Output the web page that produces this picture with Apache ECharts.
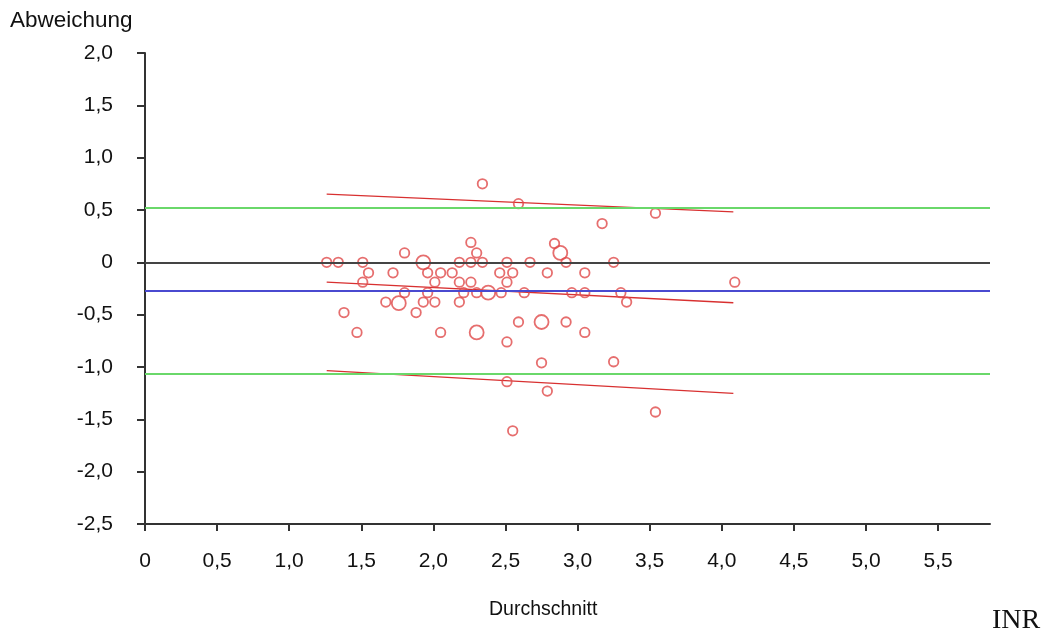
<!DOCTYPE html>
<html>
<head>
<meta charset="utf-8">
<script src="https://cdn.jsdelivr.net/npm/echarts@6/dist/echarts.min.js"></script>
<style>html,body{margin:0;padding:0;background:#fff;}#c{width:1046px;height:637px;}</style>
</head>
<body>
<div id="c"></div>
<script>
// ---- data ----
const xTicks = [0, 0.5, 1.0, 1.5, 2.0, 2.5, 3.0, 3.5, 4.0, 4.5, 5.0, 5.5];
const yTicks = [-2.5, -2.0, -1.5, -1.0, -0.5, 0, 0.5, 1.0, 1.5, 2.0];
const pointX = [1.26,1.34,1.51,1.55,1.51,1.38,1.47,1.72,1.80,1.80,1.67,1.76,1.88,1.93,1.96,2.01,1.96,1.93,2.01,2.05,2.05,2.13,2.18,2.18,2.18,2.26,2.30,2.26,2.34,2.26,2.21,2.30,2.38,2.30,2.46,2.51,3.17,2.84,2.88,2.51,2.67,2.92,3.25,2.55,2.79,3.05,2.51,4.09,2.47,2.63,2.96,3.05,3.30,3.34,2.59,2.75,2.92,3.05,2.75,3.25,2.51,2.79,3.54,2.55,2.34,2.59,3.54];
const pointY = [0,0,0,-0.10,-0.19,-0.48,-0.67,-0.10,0.09,-0.29,-0.38,-0.39,-0.48,0,-0.10,-0.19,-0.29,-0.38,-0.38,-0.10,-0.67,-0.10,0,-0.19,-0.38,0.19,0.09,0,0,-0.19,-0.29,-0.29,-0.29,-0.67,-0.10,-0.76,0.37,0.18,0.09,0,0,0,0,-0.10,-0.10,-0.10,-0.19,-0.19,-0.29,-0.29,-0.29,-0.29,-0.29,-0.38,-0.57,-0.57,-0.57,-0.67,-0.96,-0.95,-1.14,-1.23,-1.43,-1.61,0.75,0.56,0.47];
const pointCount = [1,1,1,1,1,1,1,1,1,1,1,2,1,2,1,1,1,1,1,1,1,1,1,1,1,1,1,1,1,1,1,1,2,2,1,1,1,1,2,1,1,1,1,1,1,1,1,1,1,1,1,1,1,1,1,2,1,1,1,1,1,1,1,1,1,1,1];
const meanDiff = -0.265;
const upperLoA = 0.52;
const lowerLoA = -1.064;
const zeroLine = 0;
const regX = [1.26, 4.08];
const regMid = [-0.19, -0.386];
const regUpper = [0.652, 0.482];
const regLower = [-1.035, -1.252];

const fmt = v => (Math.abs(v) < 1e-9 ? '0' : v.toFixed(1).replace('.', ','));
const pts = pointX.map((x, i) => [x, pointY[i], pointCount[i]]);
const regLine = ys => regX.map((x, i) => [x, ys[i]]);

const chart = echarts.init(document.getElementById('c'), null, {renderer: 'canvas'});
const axisCol = '#333';
const sans = 'Liberation Sans, Arial, sans-serif';
chart.setOption({
  animation: false,
  backgroundColor: '#fff',
  grid: {left: 145, right: 56, top: 53, bottom: 113, containLabel: false},
  xAxis: {
    type: 'value', min: 0, max: 5.86, interval: 0.5,
    axisLine: {show: true, onZero: false, lineStyle: {color: axisCol, width: 2}},
    axisTick: {show: true, length: 7, customValues: xTicks, lineStyle: {color: axisCol, width: 2}},
    axisLabel: {customValues: xTicks, formatter: fmt, margin: 27, fontSize: 21, color: '#111', fontFamily: sans},
    splitLine: {show: false}
  },
  yAxis: {
    type: 'value', min: -2.5, max: 2.0, interval: 0.5,
    axisLine: {show: true, onZero: false, lineStyle: {color: axisCol, width: 2}},
    axisTick: {show: true, length: 8, customValues: yTicks, lineStyle: {color: axisCol, width: 2}},
    axisLabel: {customValues: yTicks, formatter: fmt, margin: 32, fontSize: 21, color: '#111', fontFamily: sans},
    splitLine: {show: false}
  },
  graphic: [
    {type: 'text', left: 10, top: 9, style: {text: 'Abweichung', fontSize: 22.5, fill: '#111', fontFamily: sans}},
    {type: 'text', left: 489, top: 600, style: {text: 'Durchschnitt', fontSize: 19.5, fill: '#111', fontFamily: sans}},
    {type: 'text', left: 992, top: 607, style: {text: 'INR', fontSize: 28, fill: '#111', fontFamily: 'Liberation Serif, Times New Roman, serif'}}
  ],
  series: [
    {
      type: 'line', data: [], silent: true,
      markLine: {
        silent: true, symbol: 'none', label: {show: false},
        data: [
          {yAxis: zeroLine, lineStyle: {color: '#444', width: 2, type: 'solid'}},
          {yAxis: upperLoA, lineStyle: {color: '#6ad86a', width: 2, type: 'solid'}},
          {yAxis: lowerLoA, lineStyle: {color: '#6ad86a', width: 2, type: 'solid'}},
          {yAxis: meanDiff, lineStyle: {color: '#4a4ad0', width: 2, type: 'solid'}}
        ]
      }
    },
    {type: 'line', data: regLine(regUpper), symbol: 'none', lineStyle: {color: '#d83030', width: 1.3}, z: 3},
    {type: 'line', data: regLine(regMid), symbol: 'none', lineStyle: {color: '#d83030', width: 1.3}, z: 3},
    {type: 'line', data: regLine(regLower), symbol: 'none', lineStyle: {color: '#d83030', width: 1.3}, z: 3},
    {
      type: 'scatter', data: pts, z: 4,
      symbol: 'circle',
      symbolSize: d => (d[2] > 1 ? 14 : 9.5),
      itemStyle: {color: 'rgba(255,255,255,0)', borderColor: '#e04a4a', borderWidth: 1.8}
    }
  ]
});
</script>
</body>
</html>
